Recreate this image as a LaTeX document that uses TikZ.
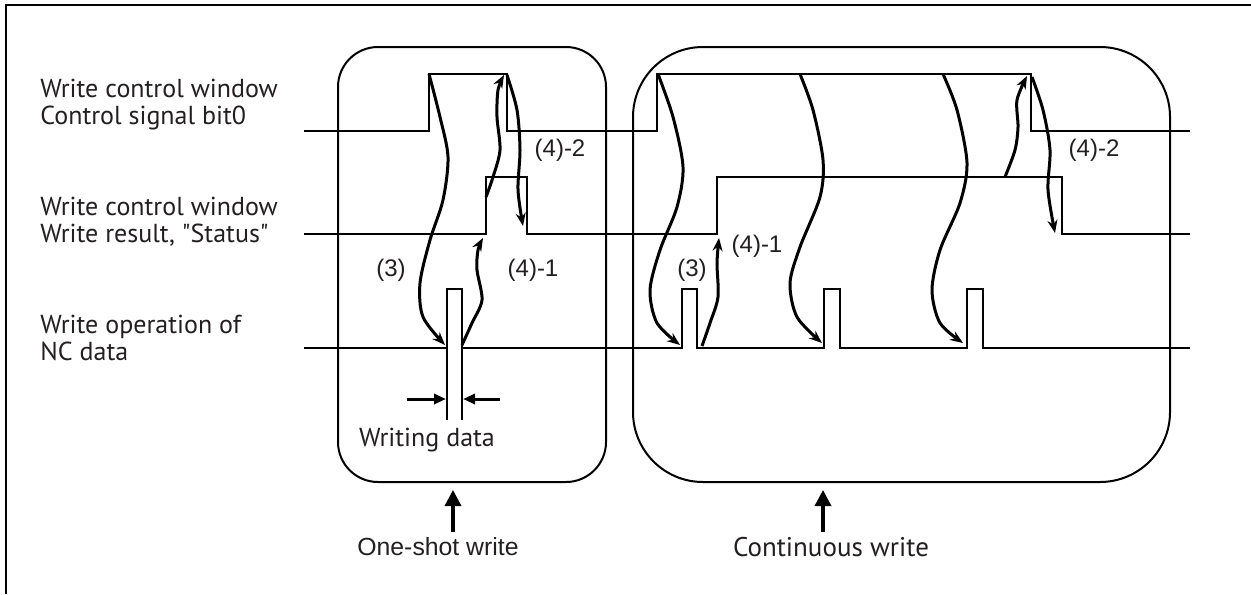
\documentclass[tikz,border=0pt]{standalone}
\usepackage{fontspec}
\setmainfont{PT Sans}[Ligatures=TeXOff]
\newfontfamily\arialfont{Liberation Sans}
\usetikzlibrary{arrows.meta}
\definecolor{lbltext}{HTML}{231F20}
\tikzset{
  signal/.style={line width=0.9pt},
  winbox/.style={line width=1pt},
  flow/.style={line width=1.5pt, -{Stealth[length=6.5pt, width=5pt]}},
  gapmark/.style={line width=1.5pt, -{Triangle[length=6pt, width=5pt]}},
  pointer/.style={line width=1.7pt, -{Triangle[length=8pt, width=8pt]}},
  sigtext/.style={text=lbltext, anchor=west, align=left, inner sep=0pt},
  steptext/.style={text=lbltext, inner sep=0pt, font=\arialfont\fontsize{12}{14}\selectfont},
}

\begin{document}
\begin{tikzpicture}[x=0.5pt, y=-0.5pt, font=\fontsize{13}{13.5}\selectfont]
    \useasboundingbox (0,0) rectangle (1251,594);
    % outer frame
    \draw[line width=1.4pt] (6,594) -- (6,5) -- (1251,5);

    % the two windows
    \draw[winbox, rounded corners=20pt] (338,47) rectangle (606,482);
    \draw[winbox, rounded corners=35pt] (633,47) rectangle (1170,482);

    % signal names
    \node[sigtext] (lblbit) at (40,105) {Write control window\\Control signal bit0};
    \node[sigtext] (lblstat) at (40,222) {Write control window\\Write result, "Status"};
    \node[sigtext] (lblnc) at (40,338) {Write operation of\\NC data};

    % control signal bit0
    \draw[signal] (304,131) -- (429,131) -- (429,74) -- (507,74) -- (507,131)
      -- (657,131) -- (657,74) -- (1031,74) -- (1031,131) -- (1190,131);
    % status
    \draw[signal] (304,234) -- (486,234) -- (486,177) -- (527,177) -- (527,234)
      -- (717,234) -- (717,177) -- (1062,177) -- (1062,234) -- (1190,234);
    % NC data
    \draw[signal] (304,348) -- (447,348);
    \draw[signal] (447,420) -- (447,289) -- (462,289) -- (462,420);
    \draw[signal] (462,348) -- (682,348) -- (682,289) -- (697,289) -- (697,348)
      -- (824,348) -- (824,289) -- (840,289) -- (840,348)
      -- (967,348) -- (967,289) -- (983,289) -- (983,348) -- (1190,348);

    % handshake points, one-shot
    \coordinate (oneRise) at (429,74);
    \coordinate (oneWrL) at (445,345);
    \coordinate (oneWrR) at (462,345);
    \coordinate (oneStOn) at (483,238);
    \coordinate (oneStTop) at (486,197);
    \coordinate (oneBitTop) at (504,75);
    \coordinate (oneFall) at (507,75);
    \coordinate (oneStOff) at (523,226);

    \draw[flow] plot[smooth] coordinates {(oneRise) (440,117) (448,157) (443,200)
      (430,240) (420,283) (423,317) (oneWrL)};
    \draw[flow] plot[smooth] coordinates {(oneWrR) (472,323) (482,300) (477,270)
      (478,250) (oneStOn)};
    \draw[flow] plot[smooth] coordinates {(oneStTop) (493,177) (500,150) (497,117)
      (498,90) (oneBitTop)};
    \draw[flow] plot[smooth] coordinates {(oneFall) (517,110) (520,150) (518,190)
      (oneStOff)};

    % handshake points, continuous
    \coordinate (contRise) at (658,74);
    \coordinate (contWrA) at (680,345);
    \coordinate (contWrAR) at (702,346);
    \coordinate (contStOn) at (719,238);
    \coordinate (contBitB) at (800,74);
    \coordinate (contWrB) at (822,343);
    \coordinate (contBitC) at (943,74);
    \coordinate (contWrC) at (963,343);
    \coordinate (contStTop) at (1005,177);
    \coordinate (contBitTop) at (1027,76);
    \coordinate (contFall) at (1032,77);
    \coordinate (contStOff) at (1055,233);

    \draw[flow] plot[smooth] coordinates {(contRise) (673,117) (683,167) (677,207)
      (660,250) (650,290) (657,323) (contWrA)};
    \draw[flow] plot[smooth] coordinates {(contWrAR) (710,323) (718,297) (717,263)
      (contStOn)};
    \draw[flow] plot[smooth] coordinates {(contBitB) (813,110) (823,160) (820,197)
      (800,247) (790,283) (797,317) (contWrB)};
    \draw[flow] plot[smooth] coordinates {(contBitC) (957,110) (967,163) (960,203)
      (940,250) (932,290) (940,323) (contWrC)};
    \draw[flow] plot[smooth] coordinates {(contStTop) (1015,150) (1018,127)
      (1017,100) (contBitTop)};
    \draw[flow] plot[smooth] coordinates {(contFall) (1043,110) (1050,150)
      (1048,190) (contStOff)};

    % step labels
    \node[steptext] (stepA) at (391,270) {(3)};
    \node[steptext] (stepB) at (533,270) {(4)-1};
    \node[steptext] (stepC) at (560,150) {(4)-2};
    \node[steptext] (stepD) at (692,270) {(3)};
    \node[steptext] (stepE) at (757,246) {(4)-1};
    \node[steptext] (stepF) at (1094,150) {(4)-2};

    % writing data width
    \coordinate (wdL) at (446,399);
    \coordinate (wdLtail) at (407,399);
    \coordinate (wdR) at (463,399);
    \coordinate (wdRtail) at (500,399);
    \draw[gapmark] (wdLtail) -- (wdL);
    \draw[gapmark] (wdRtail) -- (wdR);
    \node[text=lbltext, inner sep=0pt] (wdtext) at (427,440) {Writing data};

    % modes
    \node[text=lbltext, inner sep=0pt, font=\arialfont\fontsize{12.4}{14}\selectfont]
      (oneshot) at (438,547) {One-shot write};
    \node[text=lbltext, inner sep=0pt, font=\fontsize{13.5}{14}\selectfont]
      (contin) at (831,547) {Continuous write};
    \coordinate (oneshotTip) at (453,490);
    \coordinate (contTip) at (823,490);
    \draw[pointer] (453,532) -- (oneshotTip);
    \draw[pointer] (823,532) -- (contTip);
\end{tikzpicture}
\end{document}
